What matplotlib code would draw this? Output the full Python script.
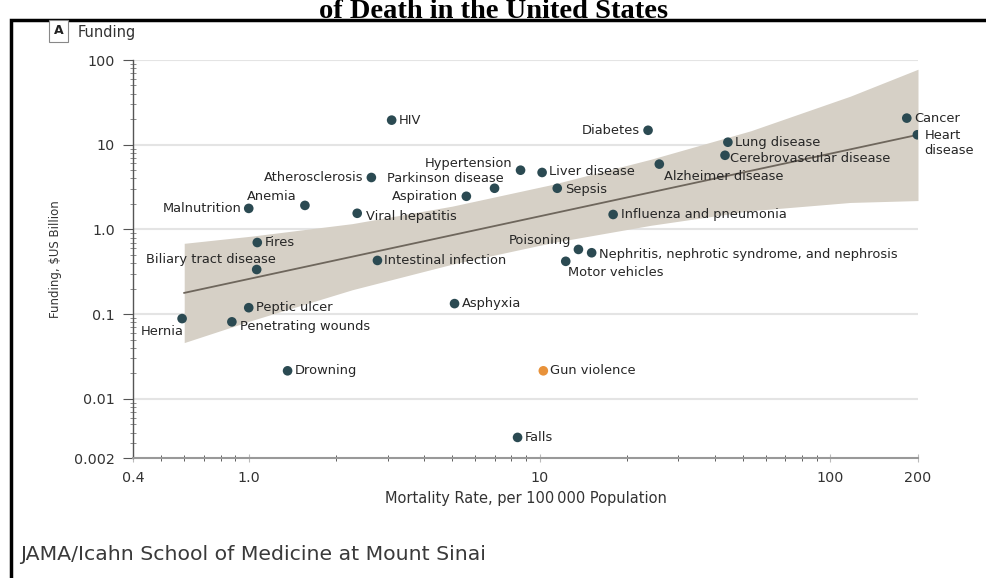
import matplotlib
matplotlib.use("Agg")
import matplotlib.pyplot as plt
from matplotlib.patches import Rectangle
from matplotlib.ticker import LogLocator, NullFormatter, FixedLocator

# causes of death: mortality rate per 100 000 vs funding ($US billion)
causes = ["Cancer", "Heart\ndisease", "Diabetes", "Lung disease", "Cerebrovascular disease",
          "Alzheimer disease", "Liver disease", "Hypertension", "Parkinson disease", "Aspiration",
          "Sepsis", "Atherosclerosis", "HIV", "Anemia", "Malnutrition", "Viral hepatitis",
          "Influenza and pneumonia", "Fires", "Biliary tract disease", "Intestinal infection",
          "Poisoning", "Nephritis, nephrotic syndrome, and nephrosis", "Motor vehicles",
          "Asphyxia", "Peptic ulcer", "Hernia", "Penetrating wounds", "Drowning",
          "Gun violence", "Falls"]
mortality = [183, 199, 23.6, 44.4, 43.4, 25.8, 10.2, 8.6, 7.0, 5.6,
             11.5, 2.64, 3.1, 1.56, 1.0, 2.36, 17.9, 1.07, 1.065, 2.77,
             13.6, 15.1, 12.3, 5.1, 1.0, 0.59, 0.875, 1.36, 10.3, 8.4]
funding = [20.6, 13.1, 14.8, 10.7, 7.5, 5.9, 4.7, 5.0, 3.06, 2.46,
           3.06, 4.1, 19.5, 1.92, 1.77, 1.55, 1.5, 0.70, 0.336, 0.43,
           0.58, 0.53, 0.42, 0.133, 0.119, 0.0885, 0.081, 0.0214, 0.0214, 0.0035]

# fitted line and its band
fit_x = [0.6, 200]
fit_y = [0.178, 13.1]
band_x = [0.6, 1.03, 2.27, 5.0, 11.0, 24.2, 53.2, 117, 200]
band_hi = [0.685, 0.835, 1.17, 1.88, 3.38, 6.75, 14.6, 37.4, 77.8]
band_lo = [0.0461, 0.0847, 0.194, 0.388, 0.696, 1.12, 1.66, 2.08, 2.19]

xticks = [0.4, 1, 10, 100, 200]
xtick_labels = ["0.4", "1.0", "10", "100", "200"]
yticks = [0.002, 0.01, 0.1, 1, 10, 100]
ytick_labels = ["0.002", "0.01", "0.1", "1.0", "10", "100"]

# label placement: (dx px, dy px, ha, va)
place = {
    "Cancer": (7, 0, "left", "center"),
    "Heart\ndisease": (7, 6, "left", "top"),
    "Diabetes": (-8, 0, "right", "center"),
    "Lung disease": (7, 0, "left", "center"),
    "Cerebrovascular disease": (5, -3, "left", "center"),
    "Alzheimer disease": (5, -12, "left", "center"),
    "Liver disease": (7, 1, "left", "center"),
    "Hypertension": (-8, 7, "right", "center"),
    "Parkinson disease": (9, 10, "right", "center"),
    "Aspiration": (-8, 0, "right", "center"),
    "Sepsis": (8, -1, "left", "center"),
    "Atherosclerosis": (-8, 0, "right", "center"),
    "HIV": (7, 0, "left", "center"),
    "Anemia": (-8, 9, "right", "center"),
    "Malnutrition": (-7, 0, "right", "center"),
    "Viral hepatitis": (9, -3, "left", "center"),
    "Influenza and pneumonia": (8, 0, "left", "center"),
    "Fires": (7, 0, "left", "center"),
    "Biliary tract disease": (19, 10, "right", "center"),
    "Intestinal infection": (7, 0, "left", "center"),
    "Poisoning": (-7, 9, "right", "center"),
    "Nephritis, nephrotic syndrome, and nephrosis": (7, -2, "left", "center"),
    "Motor vehicles": (2, -11, "left", "center"),
    "Asphyxia": (7, 0, "left", "center"),
    "Peptic ulcer": (7, 0, "left", "center"),
    "Hernia": (2, -13, "right", "center"),
    "Penetrating wounds": (8, -5, "left", "center"),
    "Drowning": (7, 0, "left", "center"),
    "Gun violence": (7, 0, "left", "center"),
    "Falls": (7, 0, "left", "center"),
}

W, H = 987, 578
fig = plt.figure(figsize=(W / 100, H / 100), dpi=100)
fig.patch.set_facecolor("white")

# cut-off title at top, frame, panel label, footer
fig.text(0.5, 1 - 18 / H, "of Death in the United States", ha="center", va="baseline",
         fontsize=20.5, fontweight="bold", family="Liberation Serif", color="black")
fig.patches.append(Rectangle((11 / W, -0.1), 1.2, 1 - 20 / H + 0.1, transform=fig.transFigure,
                             fill=False, lw=2.5, ec="black"))
fig.text(58.5 / W, 1 - 31 / H, "A", ha="center", va="center", fontsize=9, fontweight="bold",
         color="#222", bbox=dict(boxstyle="square,pad=0.35", fc="white", ec="#888", lw=0.8))
fig.text(78 / W, 1 - 32 / H, "Funding", ha="left", va="center", fontsize=10.5, color="#333")
fig.text(20 / W, 1 - 555 / H, "JAMA/Icahn School of Medicine at Mount Sinai", ha="left",
         va="center", fontsize=14.7, color="#3a3a3a", family="DejaVu Sans")

ax = fig.add_axes([133 / W, 1 - 458 / H, (918 - 133) / W, (458 - 60) / H])
ax.set_xscale("log")
ax.set_yscale("log")
ax.set_xlim(0.4, 200)
ax.set_ylim(0.002, 100)

ax.fill_between(band_x, band_lo, band_hi, color="#d6d0c6", lw=0, zorder=1)
ax.plot(fit_x, fit_y, color="#6e665c", lw=1.3, zorder=2)

colors = ["#e8923a" if c == "Gun violence" else "#2b4a52" for c in causes]
ax.scatter(mortality, funding, s=48, c=colors, edgecolors="none", zorder=3)

for name, mx, fy in zip(causes, mortality, funding):
    dx, dy, ha, va = place[name]
    ax.annotate(name, (mx, fy), xytext=(dx, dy), textcoords="offset pixels",
                ha=ha, va=va, fontsize=9.4, color="#262626", zorder=4,
                linespacing=1.2)

for v in [0.01, 0.1, 1, 10, 100]:
    ax.axhline(v, color="#e4e4e4", lw=1.5, zorder=0)

ax.xaxis.set_major_locator(FixedLocator(xticks))
ax.set_xticklabels(xtick_labels)
ax.yaxis.set_major_locator(FixedLocator(yticks))
ax.set_yticklabels(ytick_labels)
ax.xaxis.set_minor_locator(LogLocator(base=10, subs=range(2, 10)))
ax.yaxis.set_minor_locator(LogLocator(base=10, subs=range(2, 10)))
ax.xaxis.set_minor_formatter(NullFormatter())
ax.yaxis.set_minor_formatter(NullFormatter())

for s in ["top", "right"]:
    ax.spines[s].set_visible(False)
ax.spines["left"].set_color("#555")
ax.spines["bottom"].set_color("#999")
ax.spines["left"].set_linewidth(1.0)
ax.spines["bottom"].set_linewidth(1.5)
ax.tick_params(axis="y", which="major", direction="out", length=7, color="#555",
               labelsize=10.3, labelcolor="#333", pad=6)
ax.tick_params(axis="y", which="minor", direction="inout", length=5, color="#777")
ax.tick_params(axis="x", which="major", direction="inout", length=6, color="#bbb",
               labelsize=10.3, labelcolor="#333", pad=6)
ax.tick_params(axis="x", which="minor", direction="inout", length=5, color="#444")

ax.set_xlabel("Mortality Rate, per 100\u2009000 Population", fontsize=10.5, color="#333",
              labelpad=5)
ax.set_ylabel("Funding, $US Billion", fontsize=8.5, color="#333", labelpad=9)

fig.savefig("out.png", dpi=100)
